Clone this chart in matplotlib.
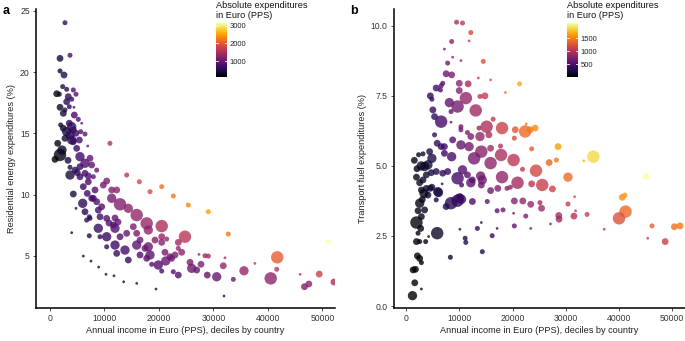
import numpy as np
import matplotlib
matplotlib.use("Agg")
import matplotlib.pyplot as plt
from matplotlib.colors import Normalize

plt.rcParams['font.family'] = ['Liberation Sans', 'DejaVu Sans']

# ---------------- Panel a: residential energy ----------------
income_a = [2750, 3670, 1840, 1840, 2570, 2330, 3060, 1230, 1710, 4280,
            4770, 3360, 3980, 3060, 1840, 2750, 3540, 4400, 2440, 4460,
            5190, 5820, 1960, 2440, 3540, 3980, 3060, 3670, 4280, 4770,
            5630, 6420, 2750, 3980, 1410, 1840, 920, 4900, 4280, 5380,
            6920, 11000, 5500, 7340, 6420, 7650, 3670, 5500, 3670, 5500,
            6420, 7030, 7950, 8570, 14070, 16390, 18350, 20500, 22630, 25380,
            29050, 32720, 51070, 4280, 4770, 3980, 6000, 7030, 6110, 8260,
            9780, 10400, 11320, 12240, 7950, 8570, 9490, 8860, 11320, 12850,
            14370, 15910, 17740, 20500, 24770, 7340, 6730, 8860, 10400, 10830,
            11930, 12480, 7210, 10400, 9180, 11930, 12850, 14070, 15290, 15910,
            16520, 11930, 10400, 12240, 13760, 14370, 15910, 17430, 16520, 17740,
            18040, 19270, 20500, 21410, 20500, 23540, 23540, 24170, 18040, 18350,
            21100, 22020, 22940, 21230, 22330, 19870, 18660, 20500, 22630, 23540,
            25690, 26000, 26920, 27710, 27340, 28440, 29050, 28860, 30590, 31800,
            32110, 33640, 35600, 37600, 40500, 41600, 41700, 45900, 46700, 47500,
            49400, 52100, 6110, 7520, 8930, 10280, 11740, 13520, 15910, 19450,
            31930, 6840, 7650, 6420, 7210, 9180, 11620, 2200, 3300, 4600,
            5000]
share_a = [24.04, 21.38, 21.13, 20.10, 19.77, 18.82, 18.60, 18.24, 18.20, 18.55,
           18.20, 18.00, 17.79, 17.59, 17.13, 16.91, 17.18, 17.13, 16.64, 16.50,
           16.15, 15.83, 15.69, 15.42, 15.83, 15.55, 15.14, 14.87, 15.28, 15.01,
           15.14, 14.95, 14.60, 14.46, 14.19, 13.24, 12.88, 13.78, 14.32, 14.46,
           13.97, 14.19, 13.10, 12.97, 12.56, 12.42, 12.23, 12.28, 11.60, 11.46,
           11.74, 11.52, 11.46, 12.00, 11.60, 11.05, 10.24, 10.65, 9.89, 9.15,
           8.60, 6.78, 6.15, 10.05, 8.88, 6.89, 9.29, 11.05, 10.65, 10.38,
           10.78, 11.11, 10.38, 10.38, 9.70, 9.42, 9.01, 8.74, 9.70, 9.21,
           8.88, 8.33, 7.65, 7.43, 6.56, 8.06, 7.92, 7.25, 8.06, 7.68,
           8.09, 7.76, 6.64, 6.56, 6.56, 7.25, 6.56, 6.84, 7.38, 6.84,
           6.29, 5.88, 5.74, 5.20, 5.47, 4.66, 5.88, 5.61, 5.07, 4.80,
           7.11, 6.29, 6.56, 6.37, 6.10, 6.10, 5.61, 5.29, 5.74, 5.07,
           5.29, 4.93, 5.07, 4.58, 4.80, 4.25, 4.31, 3.76, 3.70, 3.43,
           4.47, 3.98, 3.84, 4.31, 5.12, 5.01, 4.98, 3.43, 3.29, 4.19,
           4.84, 3.08, 3.78, 4.38, 3.16, 3.90, 4.88, 3.49, 2.48, 2.70,
           3.51, 2.86, 4.98, 4.57, 4.08, 3.49, 3.37, 2.88, 2.75, 2.29,
           1.72, 10.10, 9.70, 8.60, 8.19, 8.19, 7.52, 13.64, 12.80, 12.00,
           11.80]
popclass_a = [2, 2, 3, 2, 3, 2, 2, 3, 2, 2,
              2, 3, 2, 3, 3, 2, 2, 1, 3, 3,
              2, 1, 2, 3, 3, 4, 4, 4, 3, 3,
              2, 2, 3, 4, 3, 5, 3, 3, 3, 3,
              1, 2, 4, 3, 4, 3, 2, 3, 4, 3,
              3, 3, 2, 2, 2, 2, 2, 2, 2, 2,
              2, 2, 2, 3, 1, 1, 4, 3, 3, 3,
              3, 3, 3, 3, 3, 3, 3, 3, 4, 5,
              4, 5, 5, 5, 5, 2, 2, 4, 3, 3,
              3, 3, 2, 4, 2, 4, 3, 3, 3, 3,
              3, 4, 2, 3, 4, 3, 4, 3, 3, 3,
              4, 3, 3, 2, 3, 3, 2, 3, 4, 4,
              3, 3, 3, 4, 3, 4, 2, 2, 2, 3,
              3, 4, 3, 3, 1, 2, 2, 3, 4, 3,
              1, 2, 4, 1, 5, 2, 5, 1, 3, 3,
              3, 3, 1, 1, 1, 1, 1, 1, 1, 1,
              1, 3, 3, 3, 2, 3, 3, 4, 3, 3,
              3]

# ---------------- Panel b: transport fuel ----------------
income_b = [9460, 10580, 12140, 8530, 11820, 7170, 8720, 10280, 14490, 7780,
            7490, 8530, 13560, 15870, 21320, 6850, 6550, 5620, 4510, 4810,
            6420, 9960, 9960, 11640, 8100, 9650, 11210, 13070, 13870, 14800,
            18660, 4990, 5310, 6550, 8420, 8420, 10280, 10280, 11510, 12140,
            13690, 15120, 16350, 15550, 13870, 18030, 20520, 22380, 23310, 24250,
            22570, 20340, 23610, 28580, 35230, 33430, 28270, 26900, 24430, 21880,
            20200, 17840, 15870, 14120, 12760, 15870, 17730, 11820, 10280, 8530,
            7170, 8720, 5310, 5810, 6550, 7170, 3130, 4380, 4810, 4060,
            3440, 3760, 4690, 5620, 6850, 7780, 9650, 11510, 12440, 14000,
            10400, 12140, 14120, 15870, 17230, 18030, 18960, 19590, 20950, 23610,
            25600, 27520, 30450, 45160, 40690, 41190, 41300, 40070, 46280, 48760,
            50500, 51550, 45480, 37280, 34050, 31700, 30450, 31880, 31570, 28710,
            28770, 27150, 25470, 25170, 23430, 21940, 20340, 20200, 22500, 20340,
            23430, 18210, 17100, 15240, 17100, 16170, 14120, 13380, 14310, 11080,
            11200, 10090, 8290, 10400, 10150, 9650, 8420, 7490, 6740, 6050,
            4810, 5620, 3760, 4060, 3320, 2510, 3440, 2830, 1900, 2700,
            2200, 1900, 2510, 3630, 5810, 4190, 2080, 2510, 2830, 1270,
            1710, 1580, 2830, 1150, 3130, 2830, 4500, 5920, 12440, 14300,
            10580, 9960, 1500, 2000, 2300, 2800, 2500, 1900, 3000, 2200]
share_b = [10.13, 10.10, 9.76, 9.44, 9.46, 9.17, 8.88, 8.76, 8.73, 8.67,
           8.29, 8.25, 8.14, 8.07, 7.93, 7.95, 7.86, 7.78, 7.50, 7.38,
           7.71, 7.95, 7.69, 7.93, 7.26, 7.12, 7.42, 6.98, 7.48, 7.50,
           7.62, 7.00, 6.76, 6.58, 6.94, 6.56, 6.40, 6.29, 6.19, 6.05,
           6.35, 6.40, 6.67, 6.11, 6.05, 6.35, 6.29, 6.23, 6.29, 6.35,
           6.50, 5.99, 5.61, 5.69, 5.33, 5.18, 5.21, 5.12, 4.83, 4.88,
           5.21, 5.39, 5.10, 5.51, 5.27, 5.63, 5.71, 5.69, 5.75, 5.33,
           5.69, 5.93, 6.11, 5.81, 5.69, 5.45, 5.43, 5.51, 5.27, 5.04,
           4.98, 4.68, 4.76, 4.80, 4.74, 4.80, 4.56, 4.68, 4.50, 4.64,
           4.32, 4.40, 4.32, 4.12, 4.20, 4.60, 4.20, 4.24, 4.40, 4.36,
           4.32, 4.18, 4.60, 4.62, 3.88, 3.96, 3.37, 3.13, 2.86, 2.30,
           2.83, 2.86, 2.42, 2.74, 3.27, 3.90, 3.64, 3.40, 3.21, 3.23,
           3.10, 2.93, 3.49, 3.69, 3.63, 3.75, 3.75, 3.31, 3.21, 2.86,
           2.77, 3.43, 3.40, 3.73, 2.77, 2.51, 2.98, 2.77, 1.94, 2.42,
           2.27, 2.74, 1.74, 3.81, 3.90, 3.76, 3.67, 3.55, 4.36, 4.05,
           4.24, 3.79, 4.20, 3.96, 4.02, 3.67, 3.43, 3.19, 2.98, 2.77,
           2.60, 2.30, 2.30, 2.30, 2.60, 2.48, 1.79, 1.70, 1.55, 1.29,
           1.31, 0.83, 0.61, 0.37, 4.50, 4.14, 4.20, 4.08, 3.73, 4.50,
           4.86, 3.85, 5.20, 4.90, 5.40, 5.00, 4.40, 4.60, 3.80, 3.40]
popclass_b = [2, 2, 2, 2, 1, 1, 1, 1, 2, 2,
              3, 3, 1, 1, 2, 2, 2, 3, 3, 2,
              2, 3, 3, 3, 4, 5, 5, 5, 2, 3,
              1, 3, 3, 5, 2, 1, 2, 2, 2, 3,
              2, 5, 2, 3, 4, 5, 3, 5, 3, 3,
              1, 2, 2, 3, 5, 1, 2, 3, 5, 2,
              5, 5, 5, 5, 5, 3, 2, 4, 4, 4,
              3, 3, 2, 3, 3, 3, 2, 3, 4, 4,
              4, 3, 3, 3, 3, 3, 5, 3, 3, 4,
              2, 4, 3, 3, 3, 5, 2, 2, 5, 3,
              5, 3, 4, 3, 3, 2, 5, 5, 2, 3,
              3, 3, 1, 1, 2, 1, 2, 1, 3, 3,
              3, 1, 3, 2, 3, 3, 3, 1, 2, 2,
              1, 2, 2, 2, 1, 2, 1, 2, 2, 2,
              2, 1, 2, 4, 3, 5, 5, 3, 1, 4,
              3, 2, 3, 3, 4, 4, 3, 3, 5, 3,
              2, 3, 2, 2, 5, 1, 3, 3, 2, 3,
              3, 3, 1, 4, 3, 3, 3, 4, 3, 4,
              4, 4, 3, 3, 2, 4, 3, 3, 3, 3]

size_map = {1: 4, 2: 13, 3: 24, 4: 45, 5: 80}
x_ticks = [0, 10000, 20000, 30000, 40000, 50000]

W, H = 685, 341
fig = plt.figure(figsize=(W / 100, H / 100), dpi=100)

def fx(px):
    return px / W

def fy(py):
    return 1 - py / H

def panel(rect, inc, shr, pop, ylabel, yticks, ylim, xlim, cbar_rect, cticks, letter, letter_x, yfmt):
    ax = fig.add_axes(rect)
    inc = np.array(inc, float)
    shr = np.array(shr, float)
    absexp = inc * shr / 100.0
    sizes = [size_map[p] for p in pop]
    norm = Normalize(absexp.min(), absexp.max())
    sc = ax.scatter(inc, shr, s=sizes, c=absexp, cmap='inferno', norm=norm,
                    alpha=0.8, linewidths=0, zorder=3, clip_on=True)
    ax.set_xlim(*xlim)
    ax.set_ylim(*ylim)
    ax.set_xticks(x_ticks)
    ax.set_xticklabels([str(t) for t in x_ticks])
    ax.set_yticks(yticks)
    ax.set_yticklabels([yfmt.format(t) for t in yticks])
    for s in ['top', 'right']:
        ax.spines[s].set_visible(False)
    for s in ['left', 'bottom']:
        ax.spines[s].set_linewidth(1.1)
        ax.spines[s].set_color('black')
    ax.tick_params(axis='both', labelsize=6.2, length=2.5, width=0.6,
                   color='#333333', labelcolor='#333333', pad=2)
    ax.set_xlabel('Annual income in Euro (PPS), deciles by country', fontsize=6.6,
                  color='#222222', labelpad=2)
    ax.set_ylabel(ylabel, fontsize=6.6, color='#222222', labelpad=3)
    fig.text(fx(letter_x), fy(14), letter, fontsize=9, fontweight='bold',
             ha='left', va='baseline')
    cax = fig.add_axes(cbar_rect)
    cb = fig.colorbar(sc, cax=cax)
    cb.solids.set_alpha(1)
    cb.outline.set_visible(False)
    cb.set_ticks(cticks)
    cax.tick_params(length=0, labelsize=5.5, pad=2, labelcolor='#222222')
    for t in cticks:
        cax.axhline(t, 0, 0.2, color='white', lw=0.6)
        cax.axhline(t, 0.8, 1, color='white', lw=0.6)
    fig.text(cbar_rect[0], fy(1.5), 'Absolute expenditures\nin Euro (PPS)',
             fontsize=6.6, va='top', ha='left', color='#111111', linespacing=1.0)
    return ax

panel([fx(36), fy(308), fx(335) - fx(36), fy(9) - fy(308)],
      income_a, share_a, popclass_a, 'Residential energy expenditures (%)',
      [5, 10, 15, 20, 25], (0.74, 25.16), (-2570, 52300),
      [fx(216), fy(77), fx(11), fy(23) - fy(77)], [1000, 2000, 3000], 'a', 3, '{:g}')

panel([fx(394), fy(308), fx(685) - fx(394), fy(9) - fy(308)],
      income_b, share_b, popclass_b, 'Transport fuel expenditures (%)',
      [0.0, 2.5, 5.0, 7.5, 10.0], (-0.07, 10.6), (-2330, 52500),
      [fx(566.7), fy(77), fx(11), fy(23) - fy(77)], [500, 1000, 1500], 'b', 350, '{:.1f}')

fig.savefig('out.png', dpi=100)
